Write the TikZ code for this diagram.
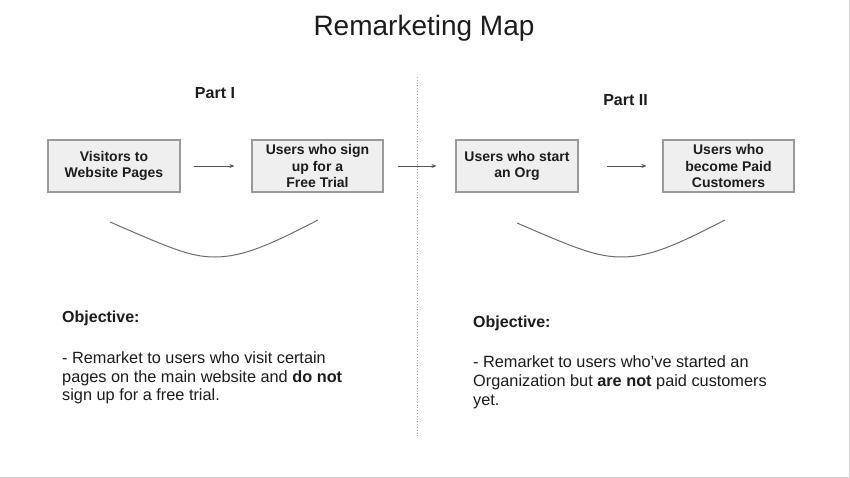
\documentclass[tikz,border=0pt]{standalone}
\usepackage{fontspec}
\setmainfont{Liberation Sans}
\usetikzlibrary{arrows.meta}
\definecolor{txt}{HTML}{1C1C1C}
\definecolor{boxfill}{HTML}{EFEFEF}
\definecolor{boxline}{HTML}{9A9A9A}
\definecolor{arr}{HTML}{555555}
\definecolor{curv}{HTML}{6E6E6E}
\definecolor{frame}{HTML}{D6D6D6}
\begin{document}
\begin{tikzpicture}[x=1pt,y=-1pt,
  stagebox/.style={draw=boxline,fill=boxfill,line width=1.1pt,minimum height=52pt,inner sep=0pt,
    align=center,text=txt,font=\fontsize{14}{16.5}\selectfont\bfseries},
  flow/.style={draw=arr,line width=0.8pt,-{Stealth[length=5pt,width=4pt]}},
  bodyline/.style={anchor=base west,inner sep=0pt,text=txt,font=\fontsize{16.3}{19}\selectfont},
  heading/.style={anchor=base,inner sep=0pt,text=txt,font=\fontsize{16}{19}\selectfont\bfseries},
  smile/.style={draw=curv,line width=1pt}]
\useasboundingbox (0,0) rectangle (850,478);
\fill[white] (0,0) rectangle (850,478);
\draw[frame,line width=1.2pt] (0,477.4) -- (849.4,477.4) -- (849.4,0);

% title
\node[anchor=base,inner sep=0pt,text=txt,font=\fontsize{28}{32}\selectfont] (title) at (424,36) {Remarketing Map};

% part headings
\node[heading] (p1) at (215,99) {Part I};
\node[heading] (p2) at (625.5,106) {Part II};

% divider
\coordinate (dtop) at (417,77);
\coordinate (dbot) at (417,438);
\draw[gray!70,line width=0.8pt,dotted] (dtop) -- (dbot);

% boxes
\node[stagebox,minimum width=132pt] (b1) at (114,166) {Visitors to\\Website Pages};
\node[stagebox,minimum width=131pt] (b2) at (317.5,166) {Users who sign\\up for a\\Free Trial};
\node[stagebox,minimum width=122pt] (b3) at (517,166) {Users who start\\an Org};
\node[stagebox,minimum width=131pt] (b4) at (728.5,166) {Users who\\become Paid\\Customers};

% arrows
\draw[flow,shorten <=13pt,shorten >=17pt] (b1.east) -- (b2.west);
\draw[flow,shorten <=14pt,shorten >=19pt] (b2.east) -- (b3.west);
\draw[flow,shorten <=28pt,shorten >=16pt] (b3.east) -- (b4.west);

% curves
\coordinate (c1a) at (110,222);
\coordinate (c1m) at (215,257);
\coordinate (c1b) at (318,220);
\draw[smile] (c1a) .. controls (170,248) and (190,257) .. (c1m) .. controls (245,257) and (275,242) .. (c1b);
\coordinate (c2a) at (517,223);
\coordinate (c2m) at (622,257);
\coordinate (c2b) at (725,220);
\draw[smile] (c2a) .. controls (577,249) and (597,257) .. (c2m) .. controls (652,257) and (682,242) .. (c2b);

% objectives left
\node[bodyline,font=\fontsize{16}{19}\selectfont\bfseries] (o1h) at (62,322) {Objective:};
\node[bodyline] (o1a) at (62,363) {- Remarket to users who visit certain};
\node[bodyline] (o1b) at (62,382) {pages on the main website and \textbf{do not}};
\node[bodyline] (o1c) at (62,400.5) {sign up for a free trial.};

% objectives right
\node[bodyline,font=\fontsize{16}{19}\selectfont\bfseries] (o2h) at (473,327) {Objective:};
\node[bodyline] (o2a) at (473,367) {- Remarket to users who’ve started an};
\node[bodyline] (o2b) at (473,386) {Organization but \textbf{are not} paid customers};
\node[bodyline] (o2c) at (473,405) {yet.};
\end{tikzpicture}
\end{document}
